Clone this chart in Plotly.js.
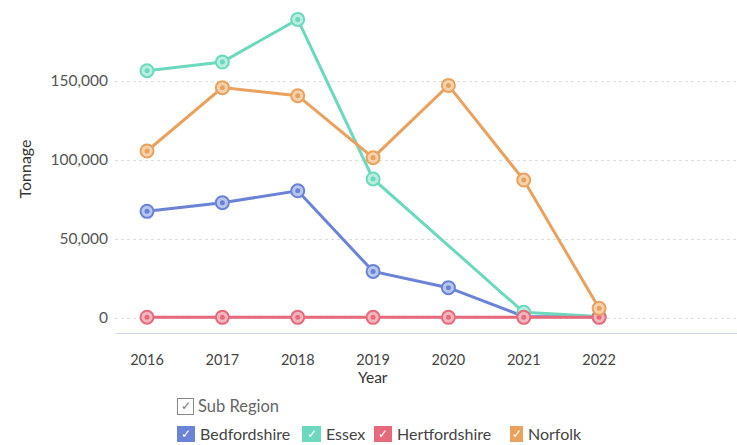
<!DOCTYPE html>
<html>
<head>
<meta charset="utf-8">
<script src="https://cdn.plot.ly/plotly-3.0.1.min.js"></script>
<style>
html,body{margin:0;padding:0;background:#fff;}
#wrap{position:relative;width:737px;height:445px;}
#chart{position:absolute;left:0;top:0;width:737px;height:445px;}
.leg{position:absolute;font-family:Lato,"Open Sans",sans-serif;font-size:16px;color:#444;display:flex;align-items:center;white-space:nowrap;}
.box{display:inline-block;width:15px;height:15px;line-height:15px;text-align:center;font-size:12px;color:#fff;margin-right:5px;box-sizing:border-box;}
</style>
</head>
<body>
<div id="wrap">
<div id="chart"></div>
<div class="leg" style="left:177px;top:396px;color:#666;font-size:16.5px;"><span class="box" style="border:1.5px solid #888;color:#777;background:#fff;width:17px;height:17px;line-height:14px;margin-right:4px;">✓</span>Sub Region</div>
<div id="legrow"></div>
</div>
<script>
const years = [2016, 2017, 2018, 2019, 2020, 2021, 2022];
const seriesNames = ["Bedfordshire", "Essex", "Hertfordshire", "Norfolk"];
const bedfordshire = [67500, 73000, 80500, 29500, 19200, 1000, 800];
const essex = [156500, 162000, 189000, 88000, null, 3600, 1000];
const hertfordshire = [500, 400, 400, 400, 400, 400, 400];
const norfolk = [105700, 145800, 140700, 101500, 147200, 87300, 6100];
const yTickVals = [0, 50000, 100000, 150000];

const colors = ["#6b83d6", "#6cd9bf", "#e66a7c", "#eaa15e"];
const light = ["#b9c6ef", "#b9eedf", "#f4b6be", "#f5d2ae"];
const values = [bedfordshire, essex, hertfordshire, norfolk];

const traces = [];
values.forEach((v, i) => {
  traces.push({
    x: years, y: v, type: "scatter", mode: "lines+markers", name: seriesNames[i],
    connectgaps: true,
    line: {color: colors[i], width: 3},
    marker: {size: 13, color: light[i], line: {color: colors[i], width: 2}},
    showlegend: false, hoverinfo: "x+y+name"
  });
  traces.push({
    x: years, y: v, type: "scatter", mode: "markers", name: seriesNames[i],
    marker: {size: 5, color: colors[i]},
    showlegend: false, hoverinfo: "skip"
  });
});

const layout = {
  width: 737, height: 445,
  margin: {l: 115, r: 0, t: 5, b: 112},
  paper_bgcolor: "#fff", plot_bgcolor: "#fff",
  font: {family: "Lato, 'Open Sans', sans-serif", color: "#444"},
  xaxis: {
    range: [2015.575, 2023.83], tickvals: years, ticktext: years.map(String),
    showgrid: false, zeroline: false, showline: true, linecolor: "#ccd6eb", linewidth: 1,
    ticks: "", tickfont: {size: 14.5, color: "#444"}, ticklabelstandoff: 14, fixedrange: true
  },
  yaxis: {
    range: [-9494, 198100], tickvals: yTickVals, tickformat: ",d",
    showgrid: true, gridcolor: "#dcdcdc", griddash: "3px,3px", gridwidth: 1,
    zeroline: false, showline: false, ticks: "",
    tickfont: {size: 15.5, color: "#555"}, ticklabelstandoff: 6,
    title: {text: "Tonnage", font: {size: 16, color: "#333"}, standoff: 14},
    fixedrange: true
  },
  annotations: [{
    text: "Year", xref: "paper", yref: "paper", x: (373 - 115) / 622, y: (445 - 112 - 377) / 328,
    xanchor: "center", yanchor: "middle", showarrow: false, font: {size: 15.5, color: "#333"}
  }]
};

Plotly.newPlot("chart", traces, layout, {displayModeBar: false, staticPlot: true});

const legPos = [[177, 200], [302, 326], [374, 397], [510, 528]];
const row = document.getElementById("legrow");
seriesNames.forEach((n, i) => {
  const d = document.createElement("div");
  d.className = "leg";
  d.style.left = legPos[i][0] + "px";
  d.style.top = "424px";
  const b = document.createElement("span");
  b.className = "box";
  b.style.background = colors[i];
  b.style.width = (legPos[i][1] - legPos[i][0] - 5) + "px";
  b.style.height = "16px";
  b.textContent = "✓";
  d.appendChild(b);
  d.appendChild(document.createTextNode(n));
  row.appendChild(d);
});
</script>
</body>
</html>
